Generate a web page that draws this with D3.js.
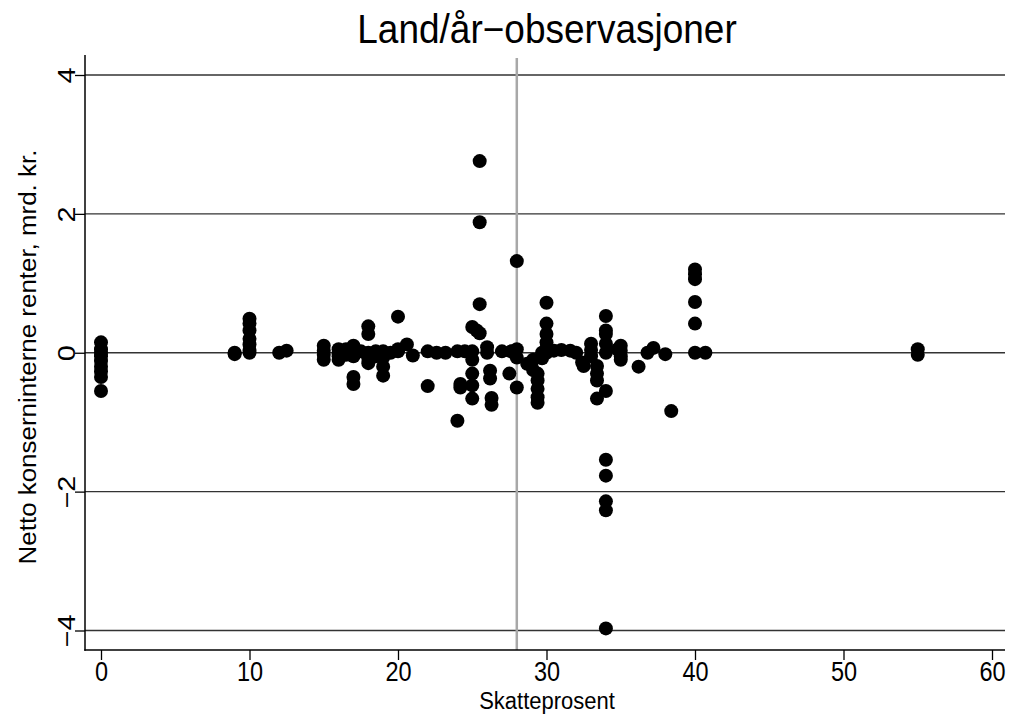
<!DOCTYPE html>
<html>
<head>
    <meta charset="utf-8">
    <title>Land/år-observasjoner</title>
    <script type="text/javascript" src="https://d3js.org/d3.v7.min.js"></script>
    <style>
        body { margin: 0; background: #fff; }
        text { font-family: "Liberation Sans", Arial, Helvetica, sans-serif; fill: #000; }
    </style>
</head>
<body>
    <div id="div-svg"></div>

    <script type="text/javascript">
        // Data: tax rate (x) and net intra-group interest (y)
        let skatt = [
            0, 0, 0, 0, 0, 0, 0, 0, 0,
            9, 9,
            10, 10, 10, 10, 10, 10, 10,
            12, 12.5,
            15, 15, 15, 15,
            16, 16, 16, 16,
            16.5, 16.5,
            17, 17, 17, 17, 17,
            17.5,
            18, 18, 18, 18, 18,
            18.5, 18.5,
            19, 19, 19, 19,
            19.5,
            20, 20, 20,
            20.6, 21,
            22, 22, 22.6, 23.2,
            24, 24, 24.2, 24.2, 24.5,
            25, 25, 25, 25, 25, 25,
            25.3,
            25.5, 25.5, 25.5, 25.5,
            26, 26, 26.2, 26.2, 26.3, 26.3,
            27, 27.5, 27.6,
            28, 28, 28, 28,
            28.7, 29.1, 29.1,
            29.4, 29.4, 29.4, 29.4, 29.4,
            29.7, 29.7,
            30, 30, 30, 30, 30, 30,
            30.5, 31, 31.6, 32, 32.4, 32.5,
            33, 33, 33,
            33.4, 33.4, 33.4, 33.4,
            34, 34, 34, 34, 34, 34, 34, 34, 34, 34, 34,
            34.8,
            35, 35, 35, 35,
            36.2, 36.8, 37.2, 38, 38.4,
            40, 40, 40, 40, 40, 40,
            40.7,
            55, 55
        ];
        let renter = [
            0.15, 0.05, 0, -0.05, -0.12, -0.2, -0.27, -0.35, -0.55,
            0, -0.02,
            0.49, 0.42, 0.32, 0.2, 0.12, 0.04, 0,
            0, 0.03,
            0.1, 0.03, -0.03, -0.1,
            0.05, 0, -0.05, -0.1,
            0.05, -0.03,
            0.1, 0.02, -0.05, -0.35, -0.45,
            0.02,
            0.38, 0.27, 0, -0.08, -0.15,
            -0.05, 0.02,
            0.02, -0.07, -0.2, -0.33,
            0,
            0.52, 0.05, 0.02,
            0.12, -0.04,
            0.02, -0.48, 0, 0,
            0.02, -0.98, -0.45, -0.5, 0.02,
            0.37, 0.02, -0.1, -0.3, -0.47, -0.66,
            0.32,
            2.76, 1.88, 0.7, 0.28,
            0.08, 0, -0.26, -0.37, -0.65, -0.75,
            0.02, -0.3, 0.02,
            1.32, 0.05, -0.07, -0.5,
            -0.16, -0.25, -0.1,
            -0.3, -0.4, -0.52, -0.64, -0.72,
            0, -0.08,
            0.72, 0.42, 0.27, 0.15, 0.07, 0,
            0.03, 0.04, 0.03, 0, -0.14, -0.19,
            0.13, 0.04, -0.05,
            -0.19, -0.3, -0.4, -0.66,
            0.53, 0.32, 0.27, 0.13, 0, -0.55, -1.54, -1.77, -2.14, -2.27, -3.97,
            0.05,
            0.1, 0.03, -0.05, -0.1,
            -0.2, 0, 0.07, -0.02, -0.84,
            1.2, 1.13, 1.06, 0.73, 0.42, 0,
            0,
            0.05, -0.03
        ];
        let xTicks = [0, 10, 20, 30, 40, 50, 60];
        let yTicks = [-4, -2, 0, 2, 4];
        let refLine = 28;

        let data = skatt.map(function (d, i) { return { x: d, y: renter[i] }; });

        // Setting SVG attributes
        let width = 1009;
        let height = 715;
        let plotLeft = 85, plotRight = 1005, plotTop = 55, plotBottom = 650;

        let svg = d3.select("#div-svg")
            .append("svg")
            .attr("id", "svg-1")
            .attr("width", width)
            .attr("height", height);

        // scales
        let xScale = d3.scaleLinear()
            .domain([0, 60])
            .range([101, 992]);

        let yScale = d3.scaleLinear()
            .domain([-4, 4])
            .range([630.5, 75]);

        // horizontal grid lines
        svg.append("g")
            .selectAll("line")
            .data(yTicks)
            .enter()
            .append("line")
            .attr("x1", plotLeft)
            .attr("x2", plotRight)
            .attr("y1", function (d) { return yScale(d); })
            .attr("y2", function (d) { return yScale(d); })
            .attr("stroke", "#333")
            .attr("stroke-width", 1.3);

        // vertical reference line at 28 percent
        svg.append("line")
            .attr("x1", xScale(refLine))
            .attr("x2", xScale(refLine))
            .attr("y1", plotTop + 3)
            .attr("y2", plotBottom)
            .attr("stroke", "#a8a8a8")
            .attr("stroke-width", 2.5);

        // Axes
        let xAxis = d3.axisBottom(xScale)
            .tickValues(xTicks)
            .tickSize(10)
            .tickSizeOuter(0);

        let yAxis = d3.axisLeft(yScale)
            .tickValues(yTicks)
            .tickSize(10)
            .tickSizeOuter(0);

        let gx = svg.append("g")
            .attr("transform", "translate(0, " + plotBottom + ")")
            .call(xAxis);
        gx.select(".domain").remove();
        gx.selectAll("line").attr("stroke", "#000").attr("stroke-width", 1.3);
        gx.selectAll("text")
            .attr("y", 0)
            .attr("dy", null)
            .attr("transform", "translate(0,31) scale(1,1.2)")
            .style("font-size", "23.5px");

        let gy = svg.append("g")
            .attr("transform", "translate(" + plotLeft + ",0)")
            .call(yAxis);
        gy.select(".domain").remove();
        gy.selectAll("line").attr("stroke", "#000").attr("stroke-width", 1.3);
        gy.selectAll("text")
            .attr("x", 0)
            .attr("y", 0)
            .attr("dy", null)
            .attr("transform", "translate(-10,0) scale(1,1.2) rotate(-90)")
            .style("text-anchor", "middle")
            .style("font-size", "24px");

        // axis lines
        svg.append("line")
            .attr("x1", plotLeft).attr("x2", plotLeft)
            .attr("y1", plotTop).attr("y2", plotBottom + 0.7)
            .attr("stroke", "#000").attr("stroke-width", 1.5);
        svg.append("line")
            .attr("x1", plotLeft - 0.7).attr("x2", plotRight)
            .attr("y1", plotBottom).attr("y2", plotBottom)
            .attr("stroke", "#000").attr("stroke-width", 1.5);

        // scatter points
        svg.append("g")
            .selectAll("circle")
            .data(data)
            .enter()
            .append("circle")
            .attr("cx", function (d) { return xScale(d.x); })
            .attr("cy", function (d) { return yScale(d.y); })
            .attr("r", 7)
            .attr("fill", "#000");

        // title
        svg.append("text")
            .attr("transform", "translate(" + ((plotLeft + plotRight) / 2 + 2) + ",43) scale(1,1.08)")
            .attr("font-size", 37)
            .style("text-anchor", "middle")
            .text("Land/år\u2212observasjoner");

        // vertical axis label
        svg.append("text")
            .attr("transform", "translate(36,357) scale(1,1.08) rotate(-90)")
            .attr("font-size", 24)
            .style("text-anchor", "middle")
            .text("Netto konserninterne renter, mrd. kr.");

        // horizontal axis label
        svg.append("text")
            .attr("transform", "translate(" + ((plotLeft + plotRight) / 2 + 2) + ",709) scale(1,1.1)")
            .attr("font-size", 22)
            .style("text-anchor", "middle")
            .text("Skatteprosent");
    </script>
</body>
</html>
